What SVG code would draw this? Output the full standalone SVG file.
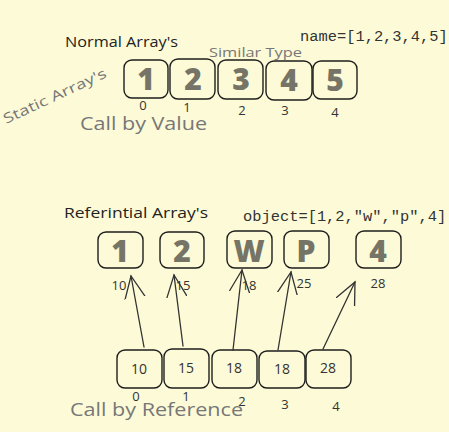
<svg xmlns="http://www.w3.org/2000/svg" width="449" height="432" viewBox="0 0 449 432">
<defs>
<style>
.bg{fill:#fdfbd7}
.box{fill:none;stroke:#1e1e1e;stroke-width:1.4}
.big{font-family:"Open Sans","Liberation Sans",sans-serif;font-weight:800;font-size:30px;fill:#767466;text-anchor:middle}
.idx{font-family:"Open Sans","Liberation Sans",sans-serif;font-size:13px;fill:#333;text-anchor:middle}
.lbl{font-family:"Open Sans","Liberation Sans",sans-serif;font-size:14px;fill:#222}
.gray{font-family:"Open Sans","Liberation Sans",sans-serif;fill:#777}
.mono{font-family:"Liberation Mono","DejaVu Sans Mono",monospace;font-size:15.4px;fill:#333}
.val{font-family:"Open Sans","Liberation Sans",sans-serif;font-size:14px;fill:#333;text-anchor:middle}
.arr{stroke:#333;stroke-width:1.3;fill:none;stroke-linecap:round}
</style>
<marker id="ah" viewBox="0 0 24 24" refX="22" refY="12" markerWidth="24" markerHeight="24" markerUnits="userSpaceOnUse" orient="auto">
<path d="M0,2 L22,12 L0,22" fill="none" stroke="#333" stroke-width="1.3" stroke-linecap="round"/>
</marker>
</defs>
<rect class="bg" x="0" y="0" width="449" height="432"/>

<text class="lbl" x="65" y="47" textLength="113" lengthAdjust="spacingAndGlyphs">Normal Array's</text>
<text class="mono" x="300" y="41">name=[1,2,3,4,5]</text>
<text class="gray" x="209" y="57" font-size="13" fill="#888" textLength="93" lengthAdjust="spacingAndGlyphs">Similar Type</text>
<text class="gray" x="6" y="124" font-size="14" transform="rotate(-25 6 124)" textLength="112" lengthAdjust="spacingAndGlyphs">Static Array's</text>
<text class="gray" x="80" y="130" font-size="19" textLength="127" lengthAdjust="spacingAndGlyphs">Call by Value</text>

<g id="n-top-0"><rect class="box" x="124" y="60" width="44" height="38" rx="8"/><text class="big" x="146" y="90">1</text><text class="idx" x="143" y="110">0</text></g>
<g id="n-top-1"><rect class="box" x="170" y="59" width="45" height="40" rx="8"/><text class="big" x="193" y="90">2</text><text class="idx" x="187" y="112">1</text></g>
<g id="n-top-2"><rect class="box" x="218" y="60" width="45" height="39" rx="8"/><text class="big" x="241" y="90">3</text><text class="idx" x="242" y="115">2</text></g>
<g id="n-top-3"><rect class="box" x="266" y="61" width="46" height="39" rx="8"/><text class="big" x="289" y="91">4</text><text class="idx" x="285" y="115">3</text></g>
<g id="n-top-4"><rect class="box" x="313" y="61" width="44" height="38" rx="8"/><text class="big" x="335" y="91">5</text><text class="idx" x="335" y="117">4</text></g>

<text class="lbl" x="64" y="218" textLength="144" lengthAdjust="spacingAndGlyphs">Referintial Array's</text>
<text class="mono" x="243" y="221">object=[1,2,"w","p",4]</text>

<g id="n-ref-0"><rect class="box" x="98" y="232" width="45" height="36" rx="8"/><text class="big" x="120" y="262">1</text><text class="idx" x="119" y="290">10</text></g>
<g id="n-ref-1"><rect class="box" x="160" y="232" width="44" height="36" rx="8"/><text class="big" x="182" y="262">2</text><text class="idx" x="183" y="290">15</text></g>
<g id="n-ref-2"><rect class="box" x="227" y="231" width="45" height="37" rx="8"/><text class="big" x="249" y="262">W</text><text class="idx" x="249" y="290">18</text></g>
<g id="n-ref-3"><rect class="box" x="284" y="231" width="45" height="37" rx="8"/><text class="big" x="306" y="262">P</text><text class="idx" x="304" y="288">25</text></g>
<g id="n-ref-4"><rect class="box" x="356" y="231" width="45" height="37" rx="8"/><text class="big" x="378" y="262">4</text><text class="idx" x="378" y="288">28</text></g>

<g id="n-mem-0"><rect class="box" x="117" y="350" width="45" height="38" rx="8"/><text class="val" x="139" y="374">10</text><text class="idx" x="136" y="401">0</text></g>
<g id="n-mem-1"><rect class="box" x="164" y="349" width="45" height="39" rx="8"/><text class="val" x="186" y="373">15</text><text class="idx" x="186" y="401">1</text></g>
<g id="n-mem-2"><rect class="box" x="212" y="350" width="45" height="38" rx="8"/><text class="val" x="234" y="373">18</text><text class="idx" x="242" y="406">2</text></g>
<g id="n-mem-3"><rect class="box" x="259" y="351" width="46" height="37" rx="8"/><text class="val" x="282" y="374">18</text><text class="idx" x="285" y="409">3</text></g>
<g id="n-mem-4"><rect class="box" x="306" y="350" width="45" height="38" rx="8"/><text class="val" x="328" y="373">28</text><text class="idx" x="336" y="411">4</text></g>

<text class="gray" x="70" y="416" font-size="19" textLength="173" lengthAdjust="spacingAndGlyphs">Call by Reference</text>

<g id="connectors">
<line class="arr" x1="144" y1="347" x2="131" y2="276" marker-end="url(#ah)"/>
<line class="arr" x1="183" y1="346" x2="174" y2="275" marker-end="url(#ah)"/>
<line class="arr" x1="233" y1="350" x2="242" y2="270" marker-end="url(#ah)"/>
<line class="arr" x1="278" y1="350" x2="291" y2="272" marker-end="url(#ah)"/>
<line class="arr" x1="323" y1="349" x2="355" y2="282" marker-end="url(#ah)"/>
</g>
</svg>
